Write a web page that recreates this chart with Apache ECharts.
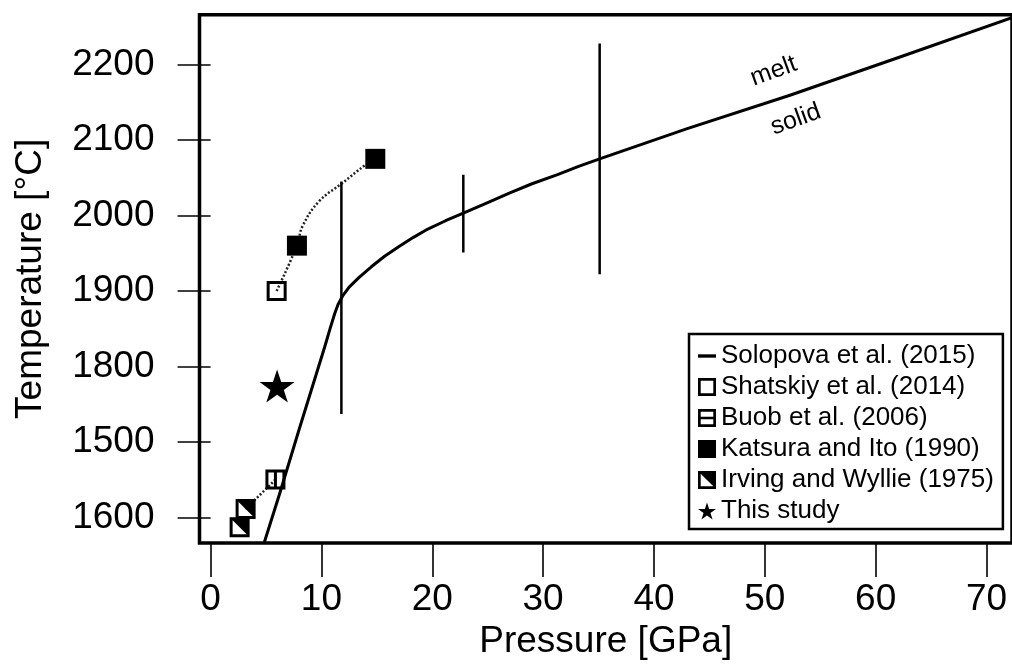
<!DOCTYPE html>
<html>
<head>
<meta charset="utf-8">
<script src="https://cdn.jsdelivr.net/npm/echarts@6/dist/echarts.min.js"></script>
<style>
  html, body { margin: 0; padding: 0; background: #fff; }
  #chart { width: 1012px; height: 665px; }
</style>
</head>
<body>
<div id="chart"></div>
<script>
// tick values and the labels printed beside them
var xTickValues = [0, 10, 20, 30, 40, 50, 60, 70]
var yTickValues = [1600, 1700, 1800, 1900, 2000, 2100, 2200]
var yTickLabels = ['1600', '1500', '1800', '1900', '2000', '2100', '2200']

// Solopova et al. (2015) melting curve [GPa, °C]
var meltCurve = [
  [4.85, 1567], [6.2, 1630], [8.0, 1717], [10.3, 1826], [10.8, 1851], [11.2, 1870],
  [11.5, 1882], [11.9, 1893], [12.5, 1905], [13.4, 1918], [14.5, 1932], [15.7, 1946],
  [17.0, 1959], [18.3, 1971], [19.6, 1982], [21.2, 1993], [22.8, 2003], [25.0, 2017],
  [27.0, 2030], [29.0, 2042], [31.3, 2054], [33.2, 2065], [35.1, 2075], [43.0, 2115],
  [52.2, 2159], [62.0, 2209], [72.3, 2262]
]
// vertical bars [GPa, low °C, high °C]
var solopovaBars = [[11.8, 1737, 2045], [22.8, 1951, 2054], [35.1, 1922, 2228]]

var shatskiy = [[5.96, 1900]]
var buob = [[5.85, 1650]]
var katsura = [[7.79, 1960], [14.86, 2075]]
var irving = [[3.16, 1611], [2.62, 1587]]
var thisStudy = [[6.0, 1774]]

// dotted guide lines
var dotLow = [[3.16, 1611], [5.85, 1650]]
var dotHigh = [[5.96, 1900], [7.79, 1960], [8.3, 1986], [9.8, 2019], [11.9, 2043], [13.97, 2067], [14.86, 2075]]

var curveLabels = [[50.8, 2191, 'melt'], [52.8, 2127, 'solid']]

var FONT = '"Liberation Sans", Arial, Helvetica, sans-serif'

var symOpen = 'path://M0,0H20V20H0Z M3,3V17H17V3Z'
var symBuobPlot = 'path://M0,0H20V20H0Z M3,3V17H8.5V3Z M11.5,3V17H17V3Z'
var symBuobLegend = 'path://M0,0H20V20H0Z M3,3V8.5H17V3Z M3,11.5V17H17V11.5Z'
var symFilled = 'path://M0,0H20V20H0Z'
var symHalf = 'path://M0,0H20V20H0Z M3,3V17H17V3Z M3,3H17V17Z'
var symStar = 'path://M50,0 L61.23,34.55 L97.55,34.55 L68.17,55.9 L79.39,90.45 L50,69.1 L20.61,90.45 L31.83,55.9 L2.45,34.55 L38.77,34.55 Z'
var symDash = 'path://M0,0H16V3H0Z'

var myChart = echarts.init(document.getElementById('chart'))

var black = { color: '#000', opacity: 1 }

var series = [{
  name: 'Solopova et al. (2015)',
  type: 'line',
  data: meltCurve,
  symbol: 'none',
  itemStyle: black,
  lineStyle: { color: '#000', width: 3, join: 'round' },
  z: 3
}]

solopovaBars.forEach(function (b) {
  series.push({
    name: 'Solopova et al. (2015)',
    type: 'line',
    data: [[b[0], b[1]], [b[0], b[2]]],
    symbol: 'none',
    itemStyle: black,
    lineStyle: { color: '#000', width: 2.5 },
    z: 3
  })
})

series.push(
  {
    name: 'dots1', type: 'line', data: dotLow, symbol: 'none',
    lineStyle: { color: '#222', width: 2.5, type: [2, 2] }, z: 2
  },
  {
    name: 'dots2', type: 'line', data: dotHigh, symbol: 'none', smooth: 0.4,
    lineStyle: { color: '#222', width: 2.5, type: [2, 2] }, z: 2
  },
  {
    name: 'Shatskiy et al. (2014)', type: 'scatter', data: shatskiy,
    symbol: symOpen, symbolSize: 20, itemStyle: black, z: 5
  },
  {
    name: 'Buob et al. (2006)', type: 'scatter', data: buob,
    symbol: symBuobPlot, symbolSize: 20, itemStyle: black, z: 5
  },
  {
    name: 'Katsura and Ito (1990)', type: 'scatter', data: katsura,
    symbol: symFilled, symbolSize: 20, itemStyle: black, z: 5
  },
  {
    name: 'Irving and Wyllie (1975)', type: 'scatter', data: irving,
    symbol: symHalf, symbolSize: 20, itemStyle: black, z: 5
  },
  {
    name: 'This study', type: 'scatter', data: thisStudy,
    symbol: symStar, symbolSize: [35, 33], itemStyle: black, z: 5
  },
  {
    name: 'labels', type: 'scatter', data: curveLabels, symbolSize: 0, silent: true,
    itemStyle: black,
    label: {
      show: true, position: 'inside', rotate: 20,
      formatter: function (p) { return p.data[2] },
      fontFamily: FONT, fontSize: 25, color: '#000'
    }
  }
)

var option = {
  animation: false,
  backgroundColor: '#fff',
  grid: {
    left: 199.5, top: 14.7, right: -6, bottom: 121,
    show: true, borderColor: '#000', borderWidth: 3.5, backgroundColor: 'transparent'
  },
  legend: {
    orient: 'vertical',
    left: 689, top: 334,
    padding: [9, 9, 5, 9],
    itemWidth: 18, itemHeight: 18, itemGap: 5,
    borderColor: '#000', borderWidth: 2.5,
    selectedMode: false,
    itemStyle: { borderWidth: 0, opacity: 1 },
    textStyle: { fontFamily: FONT, fontSize: 26, color: '#000' },
    data: [
      { name: 'Solopova et al. (2015)', icon: symDash },
      { name: 'Shatskiy et al. (2014)', icon: symOpen },
      { name: 'Buob et al. (2006)', icon: symBuobLegend },
      { name: 'Katsura and Ito (1990)', icon: symFilled },
      { name: 'Irving and Wyllie (1975)', icon: symHalf },
      { name: 'This study', icon: symStar }
    ]
  },
  xAxis: {
    type: 'value', min: -1, max: 72.3,
    name: 'Pressure [GPa]', nameLocation: 'middle', nameGap: 80,
    nameTextStyle: { fontFamily: FONT, fontSize: 37, color: '#000' },
    axisLine: { show: false },
    splitLine: { show: false },
    axisTick: { show: true, inside: false, length: 34, customValues: xTickValues, lineStyle: { color: '#000', width: 1.6 } },
    axisLabel: { margin: 38, customValues: xTickValues, fontFamily: FONT, fontSize: 37, color: '#000' }
  },
  yAxis: {
    type: 'value', min: 1566, max: 2266,
    name: 'Temperature [°C]', nameLocation: 'middle', nameGap: 150,
    nameTextStyle: { fontFamily: FONT, fontSize: 37, color: '#000' },
    axisLine: { show: false },
    splitLine: { show: false },
    axisTick: { show: true, inside: false, length: 33, customValues: yTickValues, lineStyle: { color: '#000', width: 1.6 } },
    axisLabel: {
      margin: 45, customValues: yTickValues, fontFamily: FONT, fontSize: 37, color: '#000',
      formatter: function (v) {
        var i = yTickValues.indexOf(v)
        return i >= 0 ? yTickLabels[i] : ''
      }
    }
  },
  series: series
}

myChart.setOption(option)
</script>
</body>
</html>
